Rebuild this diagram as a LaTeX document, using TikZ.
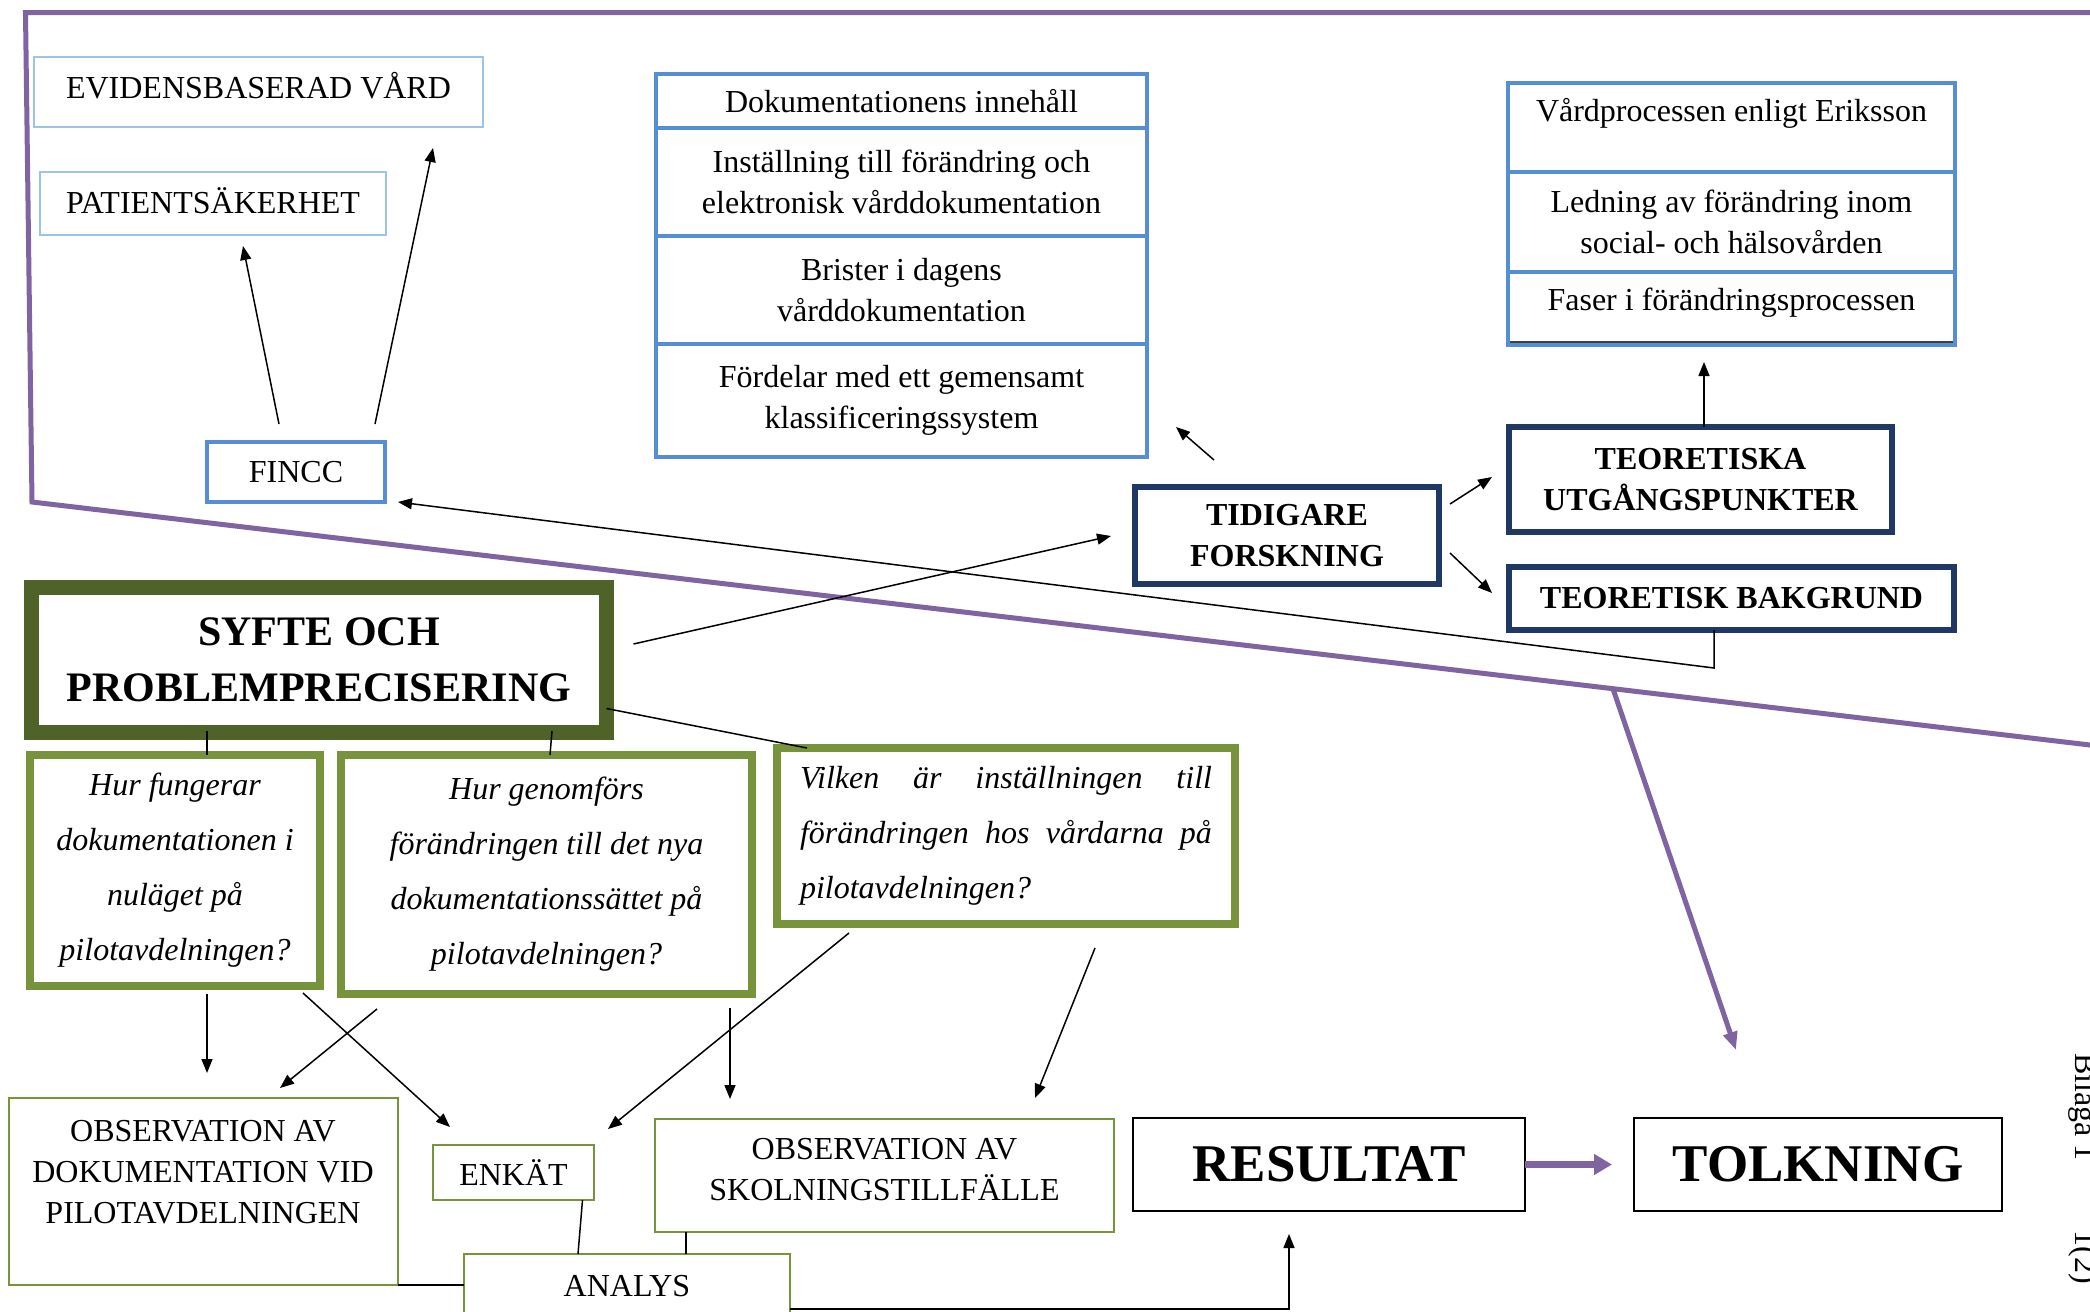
\documentclass[tikz,border=0pt]{standalone}
\usepackage{fontspec}
\setmainfont{Liberation Serif}
\usetikzlibrary{calc,arrows.meta}
\definecolor{purp}{HTML}{8064A2}
\definecolor{lblue}{HTML}{9DC3E6}
\definecolor{mblue}{HTML}{558ED5}
\definecolor{navy}{HTML}{1F3864}
\definecolor{olivd}{HTML}{4F6228}
\definecolor{qgreen}{HTML}{77933C}
\tikzset{
 bx/.style={inner sep=0pt, outer sep=0pt, align=center, font=\fontsize{16}{20.5}\selectfont},
 lbox/.style={bx, draw=lblue, line width=1pt},
 mbox/.style={bx, draw=mblue, line width=2pt},
 nbox/.style={bx, draw=navy, line width=3pt, font=\fontsize{16}{20.5}\selectfont\bfseries},
 sbox/.style={bx, draw=olivd, line width=7.5pt, font=\fontsize{21}{28}\selectfont\bfseries},
 qbox/.style={bx, draw=qgreen, line width=4pt, font=\fontsize{16}{27.5}\selectfont\itshape},
 gbox/.style={bx, draw=qgreen, line width=1pt},
 kbox/.style={bx, draw=black, line width=1.2pt, font=\fontsize{26.5}{30}\selectfont\bfseries},
 conn/.style={line width=0.75pt},
 arr/.style={conn, -{Triangle[length=7pt,width=5.5pt]}},
 pframe/.style={draw=purp, line width=2.5pt},
 parr/.style={draw=purp, line width=2.5pt, -{Triangle[length=9pt,width=7pt]}},
 parrb/.style={draw=purp, line width=3.5pt, -{Triangle[length=9pt,width=10pt]}, shorten >=11pt},
 side/.style={rotate=-90, anchor=base west, inner sep=0pt, font=\fontsize{16}{19}\selectfont},
}
\begin{document}
\begin{tikzpicture}[x=0.5pt,y=-0.5pt]
\useasboundingbox (0,0) rectangle (2090,1312);
\clip (0,0) rectangle (2090,1312);
\fill[white] (0,0) rectangle (2090,1312);

% purple frame
\coordinate (ftr) at (2100,12.5);
\coordinate (ftl) at (25.5,12.5);
\coordinate (fbl) at (32,502);
\coordinate (fbr) at (2100,746.2);
\coordinate (pst) at ($(fbl)!0.7645!(fbr)$);
\draw[pframe] (ftr) -- (ftl) -- (fbl) -- (fbr);

% top-left boxes
\node[lbox, minimum width=224.5pt, minimum height=35pt, text depth=7pt] (evid) at (258.5,92) {EVIDENSBASERAD VÅRD};
\node[lbox, minimum width=173pt, minimum height=31.5pt, text depth=3pt] (pat) at (213,203.5) {PATIENTSÄKERHET};
\node[mbox, minimum width=89pt, minimum height=30pt] (fincc) at (296,472) {FINCC};

% documentation table
\node[mbox, minimum width=245.5pt, minimum height=27pt] (d1) at (901.5,101) {Dokumentationens innehåll};
\node[mbox, minimum width=245.5pt, minimum height=54pt] (d2) at (901.5,182) {Inställning till förändring och\\elektronisk vårddokumentation};
\node[mbox, minimum width=245.5pt, minimum height=54pt] (d3) at (901.5,290) {Brister i dagens\\vårddokumentation};
\node[mbox, minimum width=245.5pt, minimum height=56.5pt] (d4) at (901.5,400.5) {Fördelar med ett gemensamt\\klassificeringssystem};

% theory table
\node[mbox, minimum width=223.5pt, minimum height=44.5pt, text depth=17.5pt] (r1) at (1731.5,127.5) {Vårdprocessen enligt Eriksson};
\node[mbox, minimum width=223.5pt, minimum height=50pt] (r2) at (1731.5,222) {Ledning av förändring inom\\social- och hälsovården};
\node[mbox, minimum width=223.5pt, minimum height=36.5pt, text depth=9pt] (r3) at (1731.5,308.5) {Faser i förändringsprocessen};
\draw[black!75, line width=0.6pt] ($(r3.south west)+(2,-3)$) -- ($(r3.south east)+(-2,-3)$);

% navy boxes
\node[nbox, minimum width=191.5pt, minimum height=52.5pt] (teoU) at (1700.5,479.5) {TEORETISKA\\UTGÅNGSPUNKTER};
\node[nbox, minimum width=222.5pt, minimum height=31.5pt] (teoB) at (1731.5,598.5) {TEORETISK BAKGRUND};
\node[nbox, minimum width=152pt, minimum height=48.5pt] (tid) at (1287,535.5) {TIDIGARE\\FORSKNING};

% aim and questions
\node[sbox, minimum width=287.5pt, minimum height=72.5pt] (syfte) at (319,660) {SYFTE OCH\\PROBLEMPRECISERING};
\node[qbox, minimum width=145pt, minimum height=115.5pt] (q1) at (175,870.5) {Hur fungerar\\dokumentationen i\\nuläget på\\pilotavdelningen?};
\node[qbox, minimum width=205.5pt, minimum height=119.5pt] (q2) at (546.5,874.5) {Hur genomförs\\förändringen till det nya\\dokumentationssättet på\\pilotavdelningen?};
\node[qbox, minimum width=229pt, minimum height=88pt, text width=206pt, align=justify] (q3) at (1006,836) {Vilken är inställningen till\linebreak förändringen hos vårdarna på\linebreak pilotavdelningen?};

% methods
\node[gbox, minimum width=194.5pt, minimum height=93.5pt, text depth=20pt] (obsdok) at (203,1191.5) {OBSERVATION AV\\DOKUMENTATION VID\\PILOTAVDELNINGEN};
\node[gbox, minimum width=80.5pt, minimum height=27.5pt] (enkat) at (513.5,1172.5) {ENKÄT};
\node[gbox, minimum width=229.5pt, minimum height=56.5pt, text depth=6pt] (obssk) at (884.5,1175.5) {OBSERVATION AV\\SKOLNINGSTILLFÄLLE};
\node[gbox, minimum width=163pt, minimum height=32pt] (analys) at (627,1286) {ANALYS};
\node[kbox, minimum width=196pt, minimum height=46.5pt] (resultat) at (1329,1164.5) {RESULTAT};
\node[kbox, minimum width=184pt, minimum height=46.5pt] (tolkning) at (1818,1164.5) {TOLKNING};

% side text
\node[side] (bil) at (2075,1053) {Bilaga 1};
\node[side] (pg) at (2075,1230) {1(2)};

% connectors
\draw[arr] ($(fincc.north)+(-17,-18)$) -- ($(pat.south)+(30,11)$);
\draw[arr] ($(fincc.north)+(79,-18)$) -- ($(evid.south)+(174.5,21)$);
\draw[arr] ($(tid.north)+(-73,-27)$) -- ($(d4.south east)+(29,-30)$);
\draw[arr] ($(tid.north east)+(11,17)$) -- ($(teoU.west)+(-17,-2.5)$);
\draw[arr] ($(tid.south east)+(11,-31)$) -- ($(teoB.west)+(-17,-5.5)$);
\draw[arr] ($(teoU.north)+(3.5,0)$) -- ($(r3.south -| teoU.north)+(3.5,17)$);
\draw[arr] ($(teoB.south)+(-17.5,0)$) -- ++(0,38) -- ($(fincc.south east)+(13,0)$);
\draw[arr] ($(syfte.east)+(27,-16)$) -- ($(tid.west)+(-24,0.5)$);
\draw[conn] ($(syfte.south east)+(0,-24)$) -- ($(q3.north west)+(30,0)$);
\draw[conn] ($(q1.north)+(32,0)$) -- ++(0,-24);
\draw[conn] ($(q2.north)+(3.5,0)$) -- ++(2,-24);
\draw[arr] ($(q1.south)+(32,8)$) -- ($(obsdok.north)+(4,-25)$);
\draw[arr] ($(q1.south east)+(-17,7)$) -- ($(enkat.north west)+(17,-18)$);
\draw[arr] ($(q2.south west)+(36,15)$) -- ($(obsdok.north)+(77,-10)$);
\draw[arr] ($(q2.south)+(183.5,14)$) -- ($(obssk.north)+(-154.5,-20)$);
\draw[arr] ($(q3.south west)+(72,9)$) -- ($(enkat.north east)+(14,-16)$);
\draw[arr] ($(q3.south east)+(-140,24)$) -- ($(obssk.north east)+(-79,-21)$);
\draw[conn] ($(enkat.south)+(69,0)$) -- ($(analys.north)+(-49,0)$);
\draw[conn] ($(obssk.south)+(-198.5,0)$) -- ($(analys.north)+(59,0)$);
\draw[conn, line width=1.2pt] (obsdok.south east) -- (obsdok.south east -| analys.west);
\draw[arr] ($(analys.south east)+(0,-9)$) -| ($(resultat.south)+(-40,23)$);
\draw[parrb] (resultat.east) -- (tolkning.west);
\draw[parr] (pst) -- ($(tolkning.north)+(-82,-68)$);
\end{tikzpicture}
\end{document}
